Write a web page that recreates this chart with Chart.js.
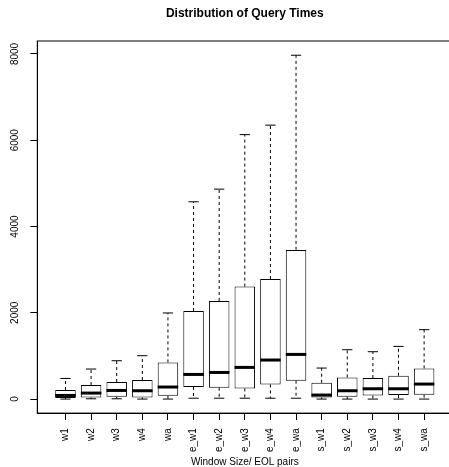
<!DOCTYPE html>
<html>
<head>
<meta charset="utf-8">
<script src="https://cdn.jsdelivr.net/npm/chart.js@4.4.1/dist/chart.umd.min.js"></script>
<style>
  html, body { margin: 0; padding: 0; overflow: hidden; background: #fff; }
  #wrap { width: 453px; height: 467px; }
</style>
</head>
<body>
<div id="wrap"><canvas id="queryChart"></canvas></div>
<script>
// box plot stats
const categories = ['w1', 'w2', 'w3', 'w4', 'wa', 'e_w1', 'e_w2', 'e_w3', 'e_w4', 'e_wa', 's_w1', 's_w2', 's_w3', 's_w4', 's_wa'];
const lowWhisker = [0, 7, 7, 0, 0, 20, 20, 20, 20, 20, 0, 0, 0, 0, 0];
const lowerQuartile = [23, 37, 53, 37, 77, 279, 262, 246, 339, 425, 37, 53, 84, 93, 100];
const medians = [84, 139, 200, 193, 279, 571, 617, 734, 905, 1035, 93, 193, 239, 239, 348];
const upperQuartile = [209, 325, 395, 441, 850, 2043, 2275, 2607, 2785, 3458, 378, 502, 487, 541, 711];
const highWhisker = [478, 696, 889, 1005, 1996, 4573, 4866, 6130, 6350, 7970, 719, 1144, 1098, 1221, 1609];
const yTicks = [0, 2000, 4000, 6000, 8000];

Chart.defaults.font.family = '"Liberation Sans", Arial, sans-serif';
Chart.defaults.color = '#000';

// whiskers, staples, medians, frame and rotated y labels
const boxExtras = {
    id: 'boxExtras',
    afterDatasetsDraw(chart) {
        const ctx = chart.ctx;
        const y = chart.scales.y;
        const meta = chart.getDatasetMeta(0);
        ctx.save();
        ctx.strokeStyle = '#000';
        meta.data.forEach((bar, i) => {
            const x = bar.x;
            const half = bar.width / 2;
            // dashed whiskers
            ctx.lineWidth = 1;
            ctx.setLineDash([3, 3]);
            ctx.beginPath();
            ctx.moveTo(x, y.getPixelForValue(upperQuartile[i]));
            ctx.lineTo(x, y.getPixelForValue(highWhisker[i]));
            ctx.moveTo(x, y.getPixelForValue(lowerQuartile[i]));
            ctx.lineTo(x, y.getPixelForValue(lowWhisker[i]));
            ctx.stroke();
            // staples
            ctx.setLineDash([]);
            ctx.beginPath();
            ctx.moveTo(x - half / 2, y.getPixelForValue(highWhisker[i]));
            ctx.lineTo(x + half / 2, y.getPixelForValue(highWhisker[i]));
            ctx.moveTo(x - half / 2, y.getPixelForValue(lowWhisker[i]));
            ctx.lineTo(x + half / 2, y.getPixelForValue(lowWhisker[i]));
            ctx.stroke();
            // median
            ctx.lineWidth = 3;
            ctx.beginPath();
            ctx.moveTo(x - half, y.getPixelForValue(medians[i]));
            ctx.lineTo(x + half, y.getPixelForValue(medians[i]));
            ctx.stroke();
        });
        // frame
        const a = chart.chartArea;
        ctx.lineWidth = 1;
        ctx.strokeRect(a.left, a.top, a.right - a.left, a.bottom - a.top);
        // y labels, rotated like R's las=0
        ctx.fillStyle = '#000';
        ctx.font = '10px "Liberation Sans", Arial, sans-serif';
        ctx.textAlign = 'center';
        ctx.textBaseline = 'middle';
        yTicks.forEach(v => {
            ctx.save();
            ctx.translate(15, y.getPixelForValue(v));
            ctx.rotate(-Math.PI / 2);
            ctx.fillText(String(v), 0, 0);
            ctx.restore();
        });
        ctx.restore();
    }
};

const ctx = document.getElementById('queryChart').getContext('2d');
new Chart(ctx, {
    type: 'bar',
    data: {
        datasets: [{
            label: 'Query time',
            data: categories.map((c, i) => ({ x: i + 1, y: [lowerQuartile[i], upperQuartile[i]] })),
            backgroundColor: '#fff',
            borderColor: '#000',
            borderWidth: 1,
            borderSkipped: false,
            barPercentage: 0.8,
            categoryPercentage: 1.0
        }]
    },
    options: {
        responsive: true,
        maintainAspectRatio: false,
        animation: false,
        layout: { padding: { left: 30.3, right: 0.7, top: 0, bottom: 0 } },
        plugins: {
            legend: { display: false },
            tooltip: { enabled: false },
            title: {
                display: true,
                text: 'Distribution of Query Times',
                fullSize: false,
                font: { size: 12, weight: 'bold' },
                padding: { top: 6, bottom: 20.6 }
            }
        },
        scales: {
            x: {
                type: 'linear',
                offset: false,
                min: -0.1,
                max: 16.1,
                afterBuildTicks: scale => { scale.ticks = categories.map((c, i) => ({ value: i + 1 })); },
                grid: { offset: false, drawOnChartArea: false, tickLength: 7, color: '#000' },
                border: { display: true, color: '#000' },
                ticks: {
                    autoSkip: false,
                    minRotation: 90,
                    maxRotation: 90,
                    padding: 8,
                    font: { size: 10 },
                    callback: v => categories[v - 1]
                },
                title: {
                    display: true,
                    text: 'Window Size/ EOL pairs',
                    font: { size: 10 },
                    padding: { top: -4, bottom: -1 }
                }
            },
            y: {
                min: -325,
                max: 8300,
                afterBuildTicks: scale => { scale.ticks = yTicks.map(v => ({ value: v })); },
                grid: { drawOnChartArea: false, tickLength: 7, color: '#000' },
                border: { display: true, color: '#000' },
                ticks: { display: false }
            }
        }
    },
    plugins: [boxExtras]
});
</script>
</body>
</html>
